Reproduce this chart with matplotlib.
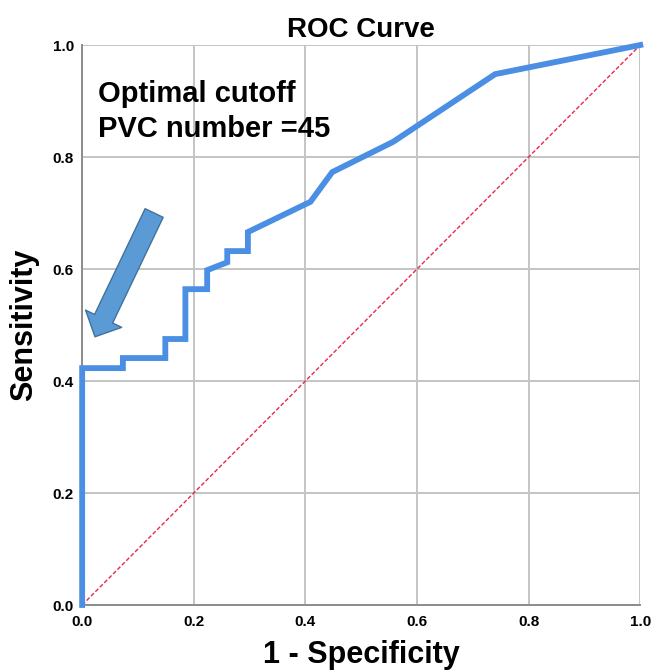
import numpy as np
import matplotlib.pyplot as plt

plt.rcParams['font.family'] = ['Liberation Sans', 'DejaVu Sans']

# ROC curve points
fpr = [0.0, 0.0, 0.073, 0.073, 0.149, 0.149, 0.185, 0.185, 0.224, 0.224,
       0.26, 0.26, 0.297, 0.297, 0.409, 0.448, 0.557, 0.740, 1.0]
tpr = [0.0, 0.423, 0.423, 0.441, 0.441, 0.475, 0.475, 0.564, 0.564, 0.598,
       0.612, 0.632, 0.632, 0.666, 0.72, 0.773, 0.827, 0.948, 1.0]
ticks = [0.0, 0.2, 0.4, 0.6, 0.8, 1.0]
tick_labels = ['0.0', '0.2', '0.4', '0.6', '0.8', '1.0']
note_lines = ['Optimal cutoff', 'PVC number =45']

fig = plt.figure(figsize=(6.52, 6.72), dpi=100)
ax = fig.add_axes([0.126, 0.0997, 0.856, 0.8333])

ax.plot([0, 1], [0, 1], color='#e8284e', lw=1.0, ls=(0, (3, 1.5)), zorder=3)
ax.plot(fpr, tpr, color='#4a8fe3', lw=4.2, solid_joinstyle='miter', zorder=4, clip_on=False)

ax.set_xlim(0, 1)
ax.set_ylim(0, 1)
ax.set_xticks(ticks)
ax.set_yticks(ticks)
ax.set_xticklabels(tick_labels, fontsize=11, fontweight='bold')
ax.set_yticklabels(tick_labels, fontsize=11, fontweight='bold')
ax.tick_params(axis='x', length=0, pad=7)
ax.tick_params(axis='y', length=0, pad=6)
ax.grid(True, color='#c4c4c4', lw=1.4)
ax.set_axisbelow(True)
for s in ['top', 'right']:
    ax.spines[s].set_visible(False)
for s in ['left', 'bottom']:
    ax.spines[s].set_color('#8c8c8c')
    ax.spines[s].set_linewidth(1.4)

ax.set_title('ROC Curve', fontsize=20, fontweight='bold', pad=6)
ax.set_xlabel('1 - Specificity', fontsize=22, fontweight='bold', labelpad=8)
ax.set_ylabel('Sensitivity', fontsize=22, fontweight='bold', labelpad=10)

# annotation text, one baseline per line
for yb, line in zip([0.898, 0.836], note_lines):
    ax.text(0.029, yb, line, fontsize=21, fontweight='bold', va='baseline', ha='left')

ax.annotate('', xy=(0.023, 0.479), xytext=(0.129, 0.70),
            arrowprops=dict(arrowstyle='simple,head_width=2.0,head_length=1.0,tail_width=1.0',
                            fc='#5b9bd5', ec='#41719c', lw=1.0, mutation_scale=14.4,
                            shrinkA=0, shrinkB=0))

fig.savefig('out.png', dpi=100)
